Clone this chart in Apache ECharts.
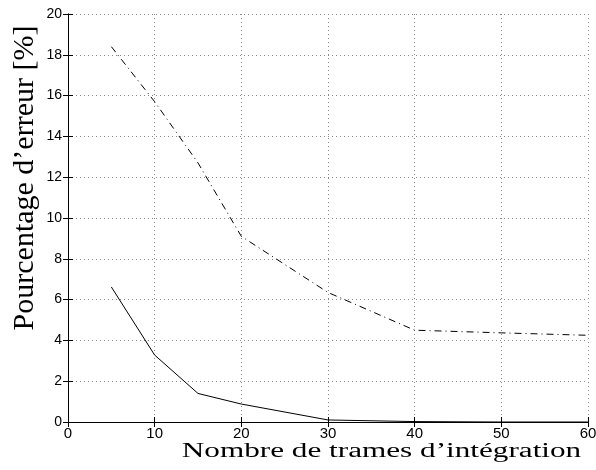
<!DOCTYPE html>
<html><head><meta charset="utf-8">
<script src="https://cdn.jsdelivr.net/npm/echarts@6/dist/echarts.min.js"></script>
<style>html,body{margin:0;padding:0;background:#fff}#c{width:596px;height:470px}</style>
</head><body><div id="c"></div>
<script>
const frames = [5, 10, 15, 20, 30, 40, 50, 60];
const errDashDot = [18.4, 15.7, 12.7, 9.1, 6.35, 4.5, 4.37, 4.25];
const errSolid = [6.62, 3.28, 1.40, 0.88, 0.10, 0.02, 0.0, 0.0];
const xTitle = 'Nombre de trames d’intégration';
const yTitle = 'Pourcentage d’erreur [%]';

const chart = echarts.init(document.getElementById('c'));
const axisLine = {show: true, lineStyle: {color: '#000', width: 1}};
const tick = {show: true, inside: true, length: 5, lineStyle: {color: '#000'}};
const split = {show: true, lineStyle: {color: '#888', type: [1, 3], width: 1}};
chart.setOption({
  animation: false,
  grid: {left: 68, right: 8, top: 14, bottom: 48, containLabel: false, outerBoundsMode: 'none'},
  xAxis: [{
    type: 'value', min: 0, max: 60, interval: 10,
    axisLine: axisLine, axisTick: tick,
    axisLabel: {margin: 4, fontFamily: 'Liberation Sans', fontSize: 15, color: '#000'},
    splitLine: split
  }, {
    type: 'value', position: 'top', min: 0, max: 60, interval: 10,
    axisLine: axisLine, axisTick: tick,
    axisLabel: {show: false}, splitLine: {show: false}
  }],
  yAxis: [{
    type: 'value', min: 0, max: 20, interval: 2,
    axisLine: axisLine, axisTick: tick,
    axisLabel: {margin: 6, fontFamily: 'Liberation Sans', fontSize: 14, color: '#000'},
    splitLine: split
  }, {
    type: 'value', position: 'right', min: 0, max: 20, interval: 2,
    axisLine: axisLine, axisTick: tick,
    axisLabel: {show: false}, splitLine: {show: false}
  }],
  graphic: [{
    type: 'text', x: 381.5, y: 452, scaleX: 1.56,
    style: {text: xTitle, font: '20px "Liberation Serif"', fill: '#000',
            textAlign: 'center', textVerticalAlign: 'middle', align: 'center', verticalAlign: 'middle'}
  }, {
    type: 'text', x: 25, y: 178, rotation: Math.PI / 2,
    style: {text: yTitle, font: '30px "Liberation Serif"', fill: '#000',
            textAlign: 'center', textVerticalAlign: 'middle', align: 'center', verticalAlign: 'middle'}
  }],
  series: [{
    type: 'line', showSymbol: false, symbol: 'none',
    data: frames.map((f, i) => [f, errDashDot[i]]),
    lineStyle: {color: '#000', width: 1, type: [7, 4, 1, 4]}
  }, {
    type: 'line', showSymbol: false, symbol: 'none',
    data: frames.map((f, i) => [f, errSolid[i]]),
    lineStyle: {color: '#000', width: 1}
  }]
});
</script></body></html>
